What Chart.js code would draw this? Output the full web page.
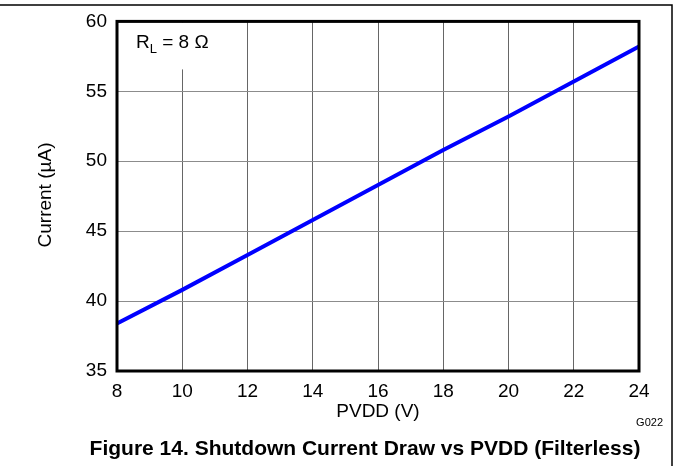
<!DOCTYPE html>
<html>
<head>
<meta charset="utf-8">
<script src="https://cdn.jsdelivr.net/npm/chart.js@4.4.1/dist/chart.umd.min.js"></script>
<style>
  html, body { margin: 0; padding: 0; background: #fff; }
  #wrap { width: 677px; height: 466px; position: relative; }
</style>
</head>
<body>
<div id="wrap"><canvas id="chart" width="677" height="466"></canvas></div>
<script>
// supply voltage (V) and shutdown current (uA)
const pvdd = [8, 10, 12, 14, 16, 18, 20, 22, 24];
const currentUA = [38.4, 40.8, 43.3, 45.8, 48.3, 50.8, 53.2, 55.7, 58.2];
const yTicks = [35, 40, 45, 50, 55, 60];

const FONT = '"Liberation Sans", Arial, sans-serif';

// frame, plot border, labels and caption
const decorations = {
    id: 'decorations',
    beforeDatasetsDraw(chart) {
        const { ctx, chartArea: a } = chart;
        // white box behind the RL label (hides the grid there)
        ctx.save();
        ctx.fillStyle = '#fff';
        ctx.fillRect(a.left + 1, a.top + 1, 127, 47);
        ctx.restore();
    },
    afterDraw(chart) {
        const { ctx, chartArea: a } = chart;
        ctx.save();
        // outer figure frame
        ctx.strokeStyle = '#000';
        ctx.lineWidth = 1.5;
        ctx.beginPath();
        ctx.moveTo(0, 5);
        ctx.lineTo(672, 5);
        ctx.lineTo(672, 466);
        ctx.stroke();

        // plot border
        ctx.lineWidth = 3;
        ctx.strokeRect(a.left, a.top, a.right - a.left, a.bottom - a.top);

        ctx.fillStyle = '#000';
        ctx.textBaseline = 'middle';

        // RL = 8 Ω
        ctx.textAlign = 'left';
        ctx.font = '19px ' + FONT;
        ctx.fillText('R', a.left + 19, a.top + 21);
        const rw = ctx.measureText('R').width;
        ctx.font = '13px ' + FONT;
        ctx.fillText('L', a.left + 19 + rw, a.top + 28);
        const lw = ctx.measureText('L').width;
        ctx.font = '19px ' + FONT;
        ctx.fillText(' = 8 \u03A9', a.left + 19 + rw + lw, a.top + 21);

        // axis titles
        ctx.textAlign = 'center';
        ctx.font = '19px ' + FONT;
        ctx.fillText('PVDD (V)', (a.left + a.right) / 2, 412);
        ctx.save();
        ctx.translate(46, 195);
        ctx.rotate(-Math.PI / 2);
        ctx.fillText('Current (\u00B5A)', 0, 0);
        ctx.restore();

        // figure id
        ctx.textAlign = 'right';
        ctx.font = '11px ' + FONT;
        ctx.fillText('G022', 663, 423);

        // caption
        ctx.textAlign = 'center';
        ctx.font = 'bold 21px ' + FONT;
        ctx.fillText('Figure 14. Shutdown Current Draw vs PVDD (Filterless)', 365, 449);
        ctx.restore();
    }
};

new Chart(document.getElementById('chart'), {
    type: 'line',
    data: {
        datasets: [{
            data: pvdd.map((v, i) => ({ x: v, y: currentUA[i] })),
            borderColor: '#0000ff',
            borderWidth: 4,
            pointRadius: 0,
            tension: 0,
            fill: false
        }]
    },
    options: {
        responsive: false,
        animation: false,
        events: [],
        layout: { padding: { top: 18, right: 38, left: 0, bottom: 0 } },
        plugins: { legend: { display: false }, tooltip: { enabled: false } },
        scales: {
            x: {
                type: 'linear',
                min: 8,
                max: 24,
                afterFit: s => { s.height = 95; },
                afterBuildTicks: s => { s.ticks = pvdd.map(v => ({ value: v })); },
                grid: { color: '#666', lineWidth: 1, drawTicks: false },
                border: { display: false },
                ticks: { color: '#000', padding: 9, font: { family: FONT, size: 19 } }
            },
            y: {
                type: 'linear',
                min: 35,
                max: 60,
                afterFit: s => { s.width = 117; },
                afterBuildTicks: s => { s.ticks = yTicks.map(v => ({ value: v })); },
                grid: { color: '#8c8c8c', lineWidth: 1, drawTicks: false },
                border: { display: false },
                ticks: { color: '#000', padding: 10, font: { family: FONT, size: 19 } }
            }
        }
    },
    plugins: [decorations]
});
</script>
</body>
</html>
